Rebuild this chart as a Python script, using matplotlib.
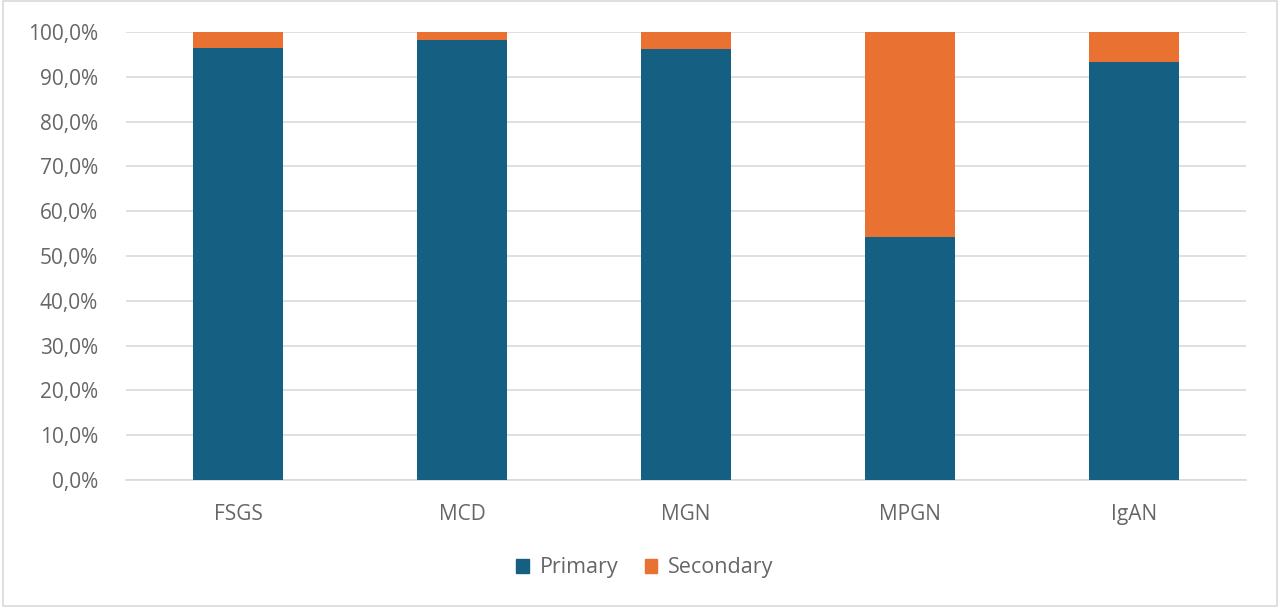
import matplotlib.pyplot as plt
import matplotlib.patches as mpatches
import numpy as np
from matplotlib.ticker import FuncFormatter

# data (percent of cases)
categories = ["FSGS", "MCD", "MGN", "MPGN", "IgAN"]
primary = [96.5, 98.2, 96.1, 54.2, 93.4]
secondary = [100 - p for p in primary]

C_PRIMARY = "#156082"
C_SECONDARY = "#E97132"
TXT = "#666666"

plt.rcParams["font.family"] = ["Open Sans", "DejaVu Sans"]

fig = plt.figure(figsize=(12.8, 6.11), dpi=100)
ax = fig.add_axes([126 / 1280, 1 - 480 / 611, 1120 / 1280, 448 / 611])

x = np.arange(len(categories))
ax.bar(x, primary, width=0.4, color=C_PRIMARY, label="Primary", zorder=3)
ax.bar(x, secondary, width=0.4, bottom=primary, color=C_SECONDARY,
       label="Secondary", zorder=3)

ax.set_xlim(-0.5, len(categories) - 0.5)
ax.set_ylim(0, 100)
ax.set_yticks(np.arange(0, 101, 10))
ax.yaxis.set_major_formatter(FuncFormatter(lambda v, _: f"{v:.1f}%".replace(".", ",")))
ax.set_xticks(x)
ax.set_xticklabels(categories)
ax.tick_params(axis="both", length=0, labelsize=15, colors=TXT)
ax.tick_params(axis="y", pad=20)
ax.tick_params(axis="x", pad=17)

ax.grid(axis="y", color="#D9D9D9", linewidth=1.2, zorder=0)
for s in ["top", "right", "left"]:
    ax.spines[s].set_visible(False)
ax.spines["bottom"].set_color("#D9D9D9")
ax.spines["bottom"].set_linewidth(1.2)

handles = [mpatches.Patch(color=C_PRIMARY, label="Primary"),
           mpatches.Patch(color=C_SECONDARY, label="Secondary")]
fig.legend(handles=handles, loc="center", bbox_to_anchor=(645 / 1280, 1 - 568 / 611),
           ncol=2, frameon=False, fontsize=15.5, labelcolor=TXT,
           handlelength=0.6, handleheight=0.6, handletextpad=0.5, columnspacing=1.2)

# light frame around the chart area
fig.patches.append(mpatches.Rectangle((0.002, 0.008), 0.996, 0.99, transform=fig.transFigure,
                                      fill=False, edgecolor="#D9D9D9", linewidth=1.2))

fig.savefig("out.png", dpi=100)
